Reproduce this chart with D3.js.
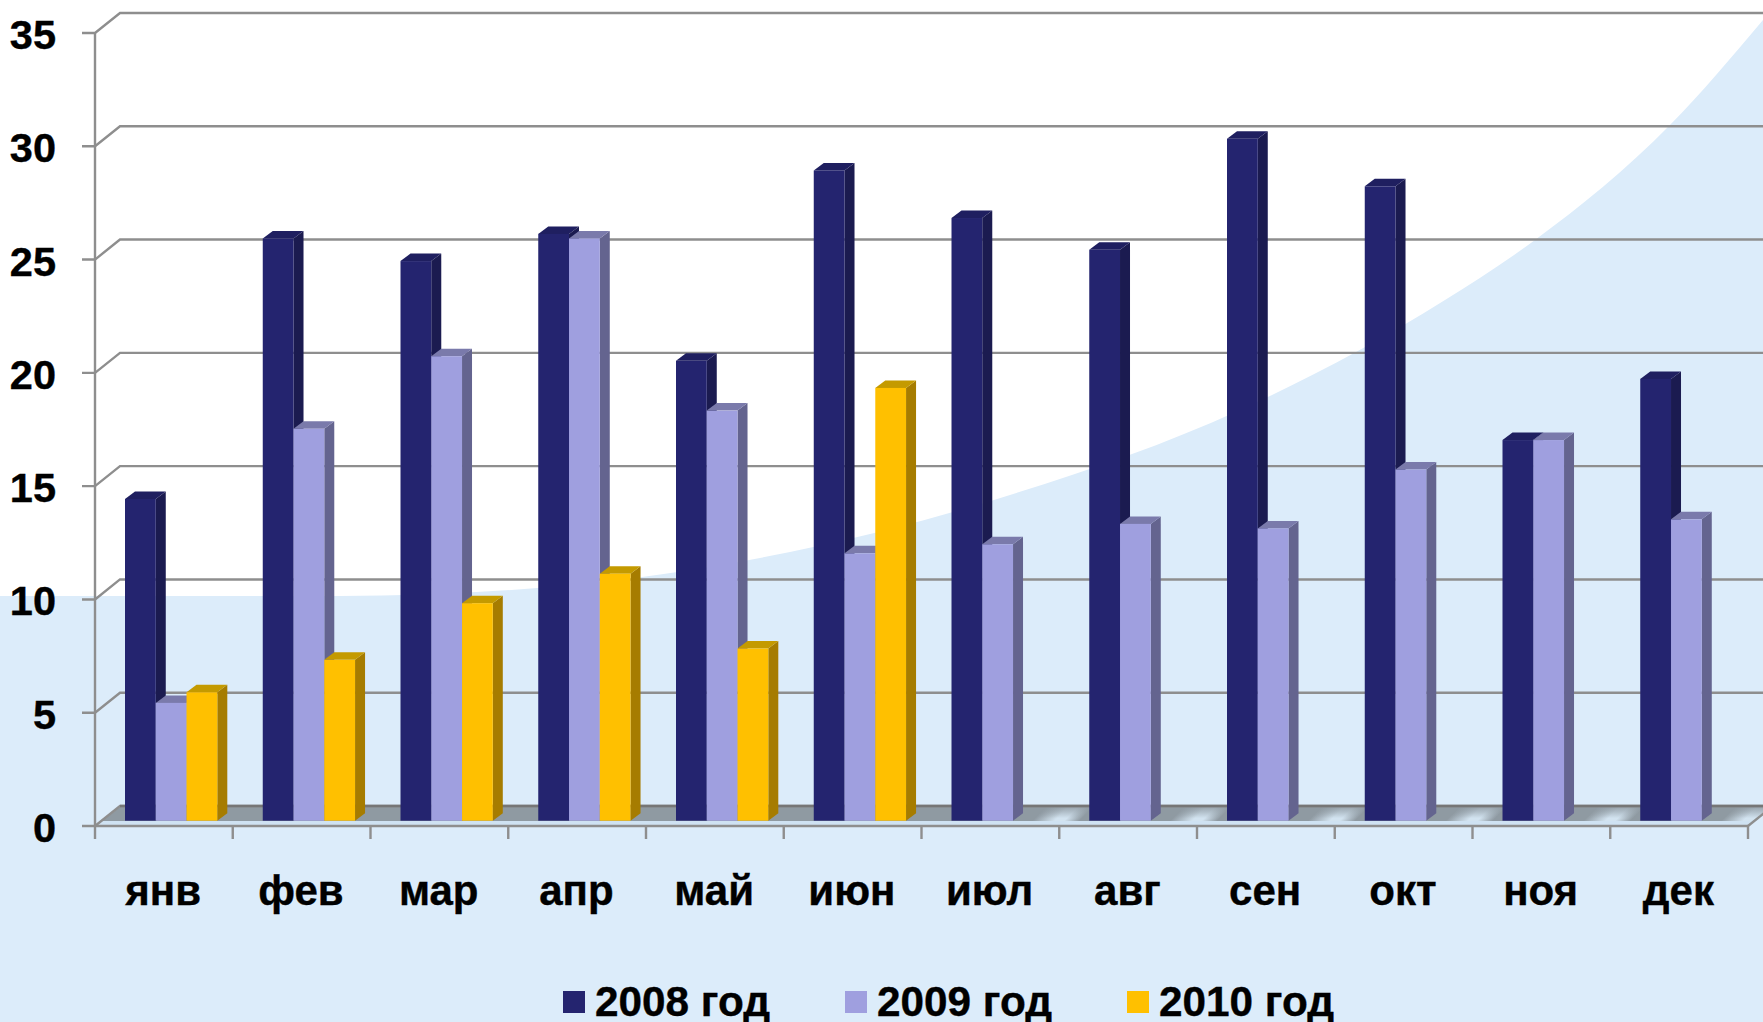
<!DOCTYPE html>
<html><head><meta charset="utf-8">
<script src="https://cdn.jsdelivr.net/npm/d3@7/dist/d3.min.js"></script>
<style>html,body{margin:0;padding:0;background:#fff}svg{display:block}text{font-family:"Liberation Sans",Arial,sans-serif;font-weight:700;fill:#000;stroke:#000;stroke-width:.4px}</style>
</head><body><svg id="c" width="1763" height="1022"></svg>
<script>
const categories=["янв","фев","мар","апр","май","июн","июл","авг","сен","окт","ноя","дек"];
const seriesNames=["2008 год","2009 год","2010 год"];
const values2008=[14.2,25.7,24.7,25.9,20.3,28.7,26.6,25.2,30.1,28.0,16.8,19.5];
const values2009=[5.2,17.3,20.5,25.7,18.1,11.8,12.2,13.1,12.9,15.5,16.8,13.3];
const values2010=[5.67,7.1,9.6,10.9,7.6,19.1,null,null,null,null,null,null];
const yTicks=[0,5,10,15,20,25,30,35];
const frontColors=["#24246f","#9f9fdf","#ffc000"];
const sideColors=["#1b1b50","#64648f","#a67c00"];
const topColors=["#1f1f60","#7a7aab","#c49a00"];
const bgCurve=[[0,596],[340,596],[560,586],[790,552],[1010,495],[1240,410],[1445,300],[1535,240],[1670,125],[1763,20]];
const legendSwatchX=[563,845,1127];

const svg=d3.select("#c");
const W=1763,H=1022,grid="#8e8e8e";
const x0=95,x1=1748,dx=25,dy=20,barDx=10,barDy=7.5,sw=2.4;
const y=d3.scaleLinear().domain([0,35]).range([826,33]);
const yBar=d3.scaleLinear().domain([0,35]).range([820.7,27.7]);
const xCat=d3.scaleBand().domain(categories).range([x0,x1]).paddingInner(.33).paddingOuter(.165).align(.66);
const xSer=d3.scaleBand().domain([0,1,2]).range([0,xCat.bandwidth()]);
const xTick=d3.scaleLinear().domain([0,12]).range([x0,x1]);

// background
svg.append("rect").attr("width",W).attr("height",H).attr("fill","#fff");
const area=d3.area().x(d=>d[0]).y0(H).y1(d=>d[1]).curve(d3.curveMonotoneX);
svg.append("path").datum(bgCurve).attr("d",area).attr("fill","#dcecfa");

// repeating diagonal sheen on the floor, one period per category
const julRight=xCat("июл")+xSer(1)+xSer.bandwidth();
const defs=svg.append("defs");
const sheen=defs.append("linearGradient").attr("id","sheen").attr("gradientUnits","userSpaceOnUse")
  .attr("x1",0).attr("x2",xCat.step()).attr("y1",0).attr("y2",0).attr("spreadMethod","repeat")
  .attr("gradientTransform",`matrix(1 0 -1 1 ${821+julRight} 0)`);
[[0,"#8f9aa2"],[.14,"#8f9aa2"],[.3,"#d2e3f0"],[.37,"#d2e3f0"],[.48,"#8f9aa2"],[1,"#8f9aa2"]].forEach(s=>
  sheen.append("stop").attr("offset",s[0]).attr("stop-color",s[1]));
const fade=defs.append("linearGradient").attr("id","fade").attr("x1",0).attr("x2",0).attr("y1",0).attr("y2",1);
[[0,.85],[.35,.5],[.8,0]].forEach(s=>fade.append("stop").attr("offset",s[0]).attr("stop-color","#8f9aa2").attr("stop-opacity",s[1]));

// floor
svg.append("polygon").attr("points",[[x0,826],[x0+dx,807],[x1+dx,807],[x1,826]].join(" ")).attr("fill","#cfe2f2");
svg.append("polygon").attr("points",[[x0+7,821],[x0+dx,807],[x1+dx,807],[x1+7,821]].join(" ")).attr("fill","#8f9aa2");
svg.append("polygon").attr("points",[[julRight,821],[julRight,807],[x1+dx,807],[x1+7,821]].join(" ")).attr("fill","url(#sheen)");
svg.append("polygon").attr("points",[[julRight,821],[julRight,807],[x1+dx,807],[x1+7,821]].join(" ")).attr("fill","url(#fade)");

// wall
const wall=svg.append("g").attr("fill","none").attr("stroke",grid).attr("stroke-width",sw);
wall.selectAll("path.g").data(yTicks).join("path").attr("class","g")
  .attr("d",d=>`M${x0-13},${y(d)}L${x0},${y(d)}L${x0+dx},${y(d)-dy}L${W},${y(d)-dy}`);
wall.append("line").attr("x1",x0).attr("x2",x0).attr("y1",y(35)).attr("y2",y(0)+13);
svg.append("line").attr("x1",x0+dx).attr("x2",W).attr("y1",y(0)-dy).attr("y2",y(0)-dy).attr("stroke","#767676").attr("stroke-width",sw);
wall.append("line").attr("x1",x0).attr("x2",x1).attr("y1",y(0)).attr("y2",y(0));
wall.append("line").attr("x1",x1).attr("x2",x1+dx).attr("y1",y(0)).attr("y2",y(0)-dy);
wall.selectAll("line.t").data(d3.range(1,13)).join("line").attr("class","t")
  .attr("x1",d=>xTick(d)).attr("x2",d=>xTick(d)).attr("y1",y(0)).attr("y2",y(0)+13);

// bars
const allSeries=[values2008,values2009,values2010];
const bars=svg.append("g");
categories.forEach((c,i)=>{
  allSeries.forEach((vals,s)=>{
    const v=vals[i]; if(v==null) return;
    const l=xCat(c)+xSer(s),r=l+xSer.bandwidth(),t=yBar(v),b=yBar(0);
    const g=bars.append("g");
    g.append("polygon").attr("points",[[r,b],[r,t],[r+barDx,t-barDy],[r+barDx,b-barDy]].join(" ")).attr("fill",sideColors[s]);
    g.append("polygon").attr("points",[[l,t],[l+barDx,t-barDy],[r+barDx,t-barDy],[r,t]].join(" ")).attr("fill",topColors[s]);
    g.append("rect").attr("x",l).attr("y",t).attr("width",xSer.bandwidth()).attr("height",b-t).attr("fill",frontColors[s]);
  });
});

// labels
svg.append("g").selectAll("text").data(yTicks).join("text")
  .attr("x",56).attr("y",d=>y(d)+16).attr("text-anchor","end").attr("font-size",41.5).text(d=>d);
svg.append("g").selectAll("text").data(categories).join("text")
  .attr("x",d=>xCat(d)+xCat.bandwidth()/2-8).attr("y",904.5).attr("text-anchor","middle").attr("font-size",42).text(d=>d);

// legend
const lg=svg.append("g");
seriesNames.forEach((n,i)=>{
  lg.append("rect").attr("x",legendSwatchX[i]).attr("y",991).attr("width",22).attr("height",22).attr("fill",frontColors[i]);
  lg.append("text").attr("x",legendSwatchX[i]+32).attr("y",1016).attr("font-size",42.3).text(n);
});
</script></body></html>
